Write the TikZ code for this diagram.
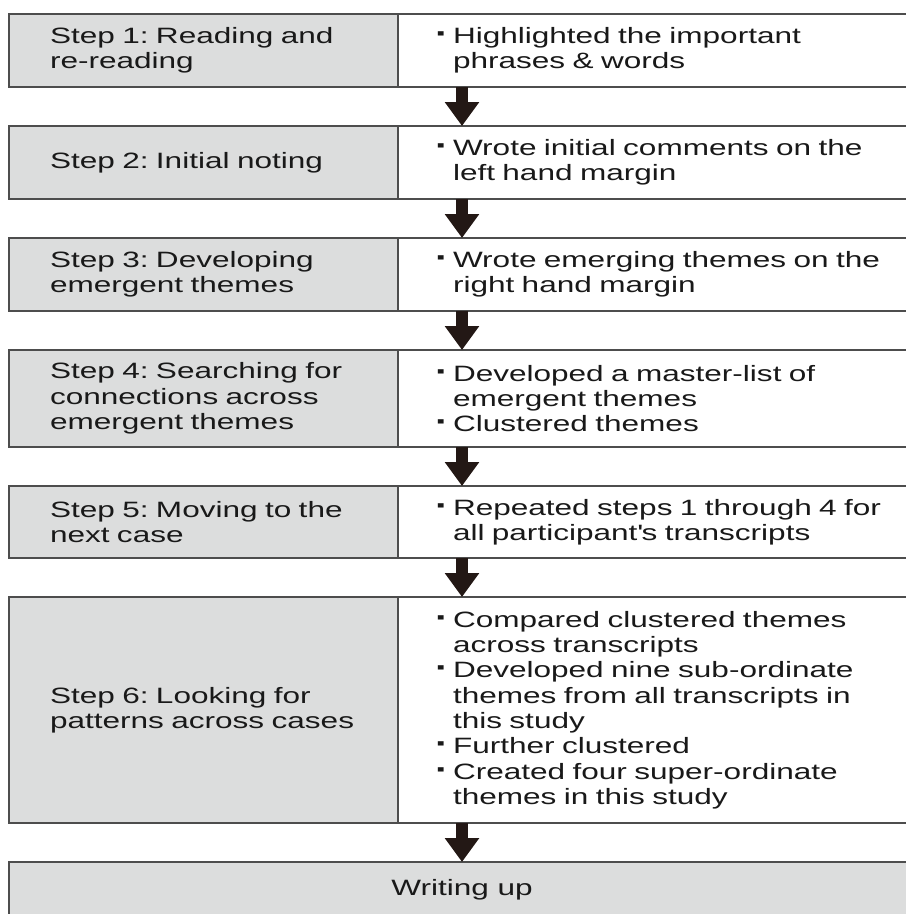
\documentclass[tikz,border=0pt]{standalone}
\usepackage{fontspec}
\newfontfamily\flowfont{Liberation Sans}[FakeStretch=1.42]
\usetikzlibrary{arrows.meta, positioning, calc}

\definecolor{boxgray}{RGB}{220,221,221}
\definecolor{edgegray}{RGB}{77,77,77}
\definecolor{arrowdark}{RGB}{35,24,21}

% bullet with hanging indent
\newlength{\bulw}\setlength{\bulw}{0.4cm}
\newcommand{\bul}{\makebox[\bulw][l]{\hspace{-0.05cm}\bfseries\scalebox{1.3}{·}}}
\newcommand{\ind}{\hspace*{\bulw}}

\begin{document}
\frenchspacing
\begin{tikzpicture}[
  % Shared look of every box
  basebox/.style={rectangle, draw=edgegray, line width=1.4pt, outer sep=0pt, text=black!90,
    font=\flowfont\fontsize{15.8pt}{18pt}\selectfont, align=left},
  % Grey step box (left column)
  stepbox/.style={basebox, fill=boxgray, inner xsep=1.025cm, text width=7.675cm, minimum width=9.725cm},
  % White note box (right column, runs off the page)
  notebox/.style={basebox, fill=white, inner xsep=0.975cm, text width=11.6cm},
  % Final full-width box
  endbox/.style={basebox, fill=boxgray, align=center, minimum width=22.65cm, minimum height=1.4cm},
  % Thick down arrow
  flow/.style={-{Triangle[width=0.825cm, length=0.6cm]}, line width=0.3cm, draw=arrowdark},
  node distance=0.975cm
]
\useasboundingbox (0,0) rectangle (22.65,-22.85);

%% Step column
\node[stepbox, minimum height=1.825cm, anchor=north west] (step1) at (0.225,-0.35)
  {Step 1: Reading and\\re-reading};
\node[stepbox, minimum height=1.825cm, below=of step1] (step2)
  {Step 2: Initial noting};
\node[stepbox, minimum height=1.825cm, below=of step2] (step3)
  {Step 3: Developing\\emergent themes};
\node[stepbox, minimum height=2.425cm, below=of step3] (step4)
  {Step 4: Searching for\\connections across\\emergent themes};
\node[stepbox, minimum height=1.8cm, below=of step4] (step5)
  {Step 5: Moving to the\\next case};
\node[stepbox, minimum height=5.65cm, below=of step5] (step6)
  {Step 6: Looking for\\patterns across cases};
\node[endbox, below=of step6.south west, anchor=north west] (write) {Writing up};

%% Note column
\node[notebox, minimum height=1.825cm, right=0pt of step1] (note1)
  {\bul Highlighted the important\\\ind phrases \& words};
\node[notebox, minimum height=1.825cm, right=0pt of step2] (note2)
  {\bul Wrote initial comments on the\\\ind left hand margin};
\node[notebox, minimum height=1.825cm, right=0pt of step3] (note3)
  {\bul Wrote emerging themes on the\\\ind right hand margin};
\node[notebox, minimum height=2.425cm, right=0pt of step4] (note4)
  {\bul Developed a master-list of\\\ind emergent themes\\\bul Clustered themes};
\node[notebox, minimum height=1.8cm, right=0pt of step5] (note5)
  {\bul Repeated steps 1 through 4 for\\\ind all participant\textquotesingle s transcripts};
\node[notebox, minimum height=5.65cm, right=0pt of step6] (note6)
  {\bul Compared clustered themes\\\ind across transcripts\\\bul Developed nine sub-ordinate\\\ind themes from all transcripts in\\\ind this study\\\bul Further clustered\\\bul Created four super-ordinate\\\ind themes in this study};

%% Flow arrows
\coordinate (mid) at (11.55,0);
\draw[flow] (note1.south -| mid) -- (note2.north -| mid);
\draw[flow] (note2.south -| mid) -- (note3.north -| mid);
\draw[flow] (note3.south -| mid) -- (note4.north -| mid);
\draw[flow] (note4.south -| mid) -- (note5.north -| mid);
\draw[flow] (note5.south -| mid) -- (note6.north -| mid);
\draw[flow] (note6.south -| mid) -- (write.north -| mid);

\end{tikzpicture}
\end{document}
